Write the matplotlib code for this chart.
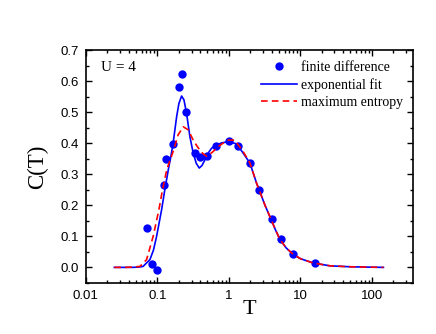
import matplotlib
matplotlib.use("Agg")
import matplotlib.pyplot as plt
from matplotlib.ticker import LogLocator, MultipleLocator, FixedLocator, FixedFormatter, NullFormatter

# finite difference data
fd_T = [16.0, 8.0, 5.333, 4.0, 2.667, 2.0, 1.333, 1.0, 0.667, 0.5, 0.4, 0.333,
        0.25, 0.222, 0.2, 0.1667, 0.1333, 0.125, 0.1, 0.0833, 0.0714]
fd_C = [0.014, 0.043, 0.090, 0.156, 0.249, 0.337, 0.391, 0.407, 0.392, 0.360, 0.354, 0.370,
        0.500, 0.624, 0.580, 0.397, 0.349, 0.264, -0.008, 0.012, 0.128]

# exponential fit curve
exp_T = [0.025, 0.035, 0.045, 0.055, 0.063, 0.0786, 0.088, 0.0975, 0.1146, 0.127, 0.142, 0.155,
         0.166, 0.186, 0.20, 0.218, 0.235, 0.256, 0.285, 0.317, 0.35, 0.385, 0.42, 0.461,
         0.52, 0.573, 0.637, 0.79, 0.98, 1.28, 1.585, 1.97, 2.44, 2.65, 3.2, 3.87, 4.5,
         5.16, 6.3, 7.76, 10.0, 15.2, 25.9, 49.0, 80.0, 145.0]
exp_C = [0.0, 0.0, 0.0, 0.001, 0.003, 0.025, 0.055, 0.10, 0.186, 0.25, 0.314, 0.36,
         0.40, 0.486, 0.528, 0.552, 0.540, 0.496, 0.421, 0.368, 0.335, 0.320, 0.328, 0.346,
         0.370, 0.384, 0.392, 0.401, 0.405, 0.398, 0.368, 0.336, 0.271, 0.25, 0.20, 0.156, 0.120,
         0.091, 0.063, 0.044, 0.028, 0.014, 0.005, 0.002, 0.001, 0.0]

# maximum entropy curve
me_T = [0.025, 0.035, 0.045, 0.057, 0.0706, 0.0873, 0.105, 0.118, 0.135, 0.15, 0.166, 0.195,
        0.23, 0.27, 0.317, 0.36, 0.393, 0.44, 0.49, 0.58, 0.71, 0.85, 0.98, 1.21, 1.585,
        1.97, 2.44, 2.65, 3.2, 3.87, 4.5, 5.16, 6.3, 7.76, 10.0, 15.2, 25.9, 49.0, 80.0, 145.0]
me_C = [0.0, 0.0, 0.001, 0.003, 0.025, 0.10, 0.186, 0.25, 0.314, 0.345, 0.373, 0.427,
        0.453, 0.443, 0.41, 0.39, 0.378, 0.365, 0.358, 0.370, 0.389, 0.402, 0.41, 0.41, 0.373,
        0.336, 0.271, 0.25, 0.20, 0.156, 0.120, 0.091, 0.063, 0.044, 0.028, 0.014, 0.005, 0.002, 0.001, 0.0]

x_ticks = [0.01, 0.1, 1, 10, 100]
x_tick_labels = ["0.01", "0.1", "1", "10", "100"]
y_ticks = [0.0, 0.1, 0.2, 0.3, 0.4, 0.5, 0.6, 0.7]
y_tick_labels = ["0.0", "0.1", "0.2", "0.3", "0.4", "0.5", "0.6", "0.7"]

serif = "Liberation Serif"
sans = "Liberation Sans"

fig = plt.figure(figsize=(4.36, 3.34), dpi=100)
ax = fig.add_axes([0.197, 0.153, 0.751, 0.697])

ax.plot(fd_T, fd_C, "o", color="#0000ff", markersize=6, markeredgewidth=0, label="finite difference", zorder=3)
ax.plot(exp_T, exp_C, "-", color="#0000ff", lw=1.2, label="exponential fit", zorder=4)
ax.plot(me_T, me_C, "--", color="#ff0000", lw=1.2, dashes=(4, 2.5), label="maximum entropy", zorder=5)

ax.set_xscale("log")
ax.set_xlim(0.01, 380)
ax.set_ylim(-0.05, 0.7)

ax.xaxis.set_major_locator(FixedLocator(x_ticks))
ax.xaxis.set_major_formatter(FixedFormatter(x_tick_labels))
ax.xaxis.set_minor_locator(LogLocator(base=10, subs=range(2, 10), numticks=20))
ax.xaxis.set_minor_formatter(NullFormatter())
ax.yaxis.set_major_locator(FixedLocator(y_ticks))
ax.yaxis.set_major_formatter(FixedFormatter(y_tick_labels))
ax.yaxis.set_minor_locator(MultipleLocator(0.05))

ax.tick_params(which="both", direction="in", top=True, right=True, width=1.0)
ax.tick_params(which="major", length=4, labelsize=9.5, pad=5)
ax.tick_params(which="minor", length=2)
for lab in ax.get_xticklabels() + ax.get_yticklabels():
    lab.set_family(sans)
for s in ax.spines.values():
    s.set_linewidth(1.2)

ax.set_xlabel("T", fontsize=16, family=serif, labelpad=-1)
ax.set_ylabel("C(T)", fontsize=16.5, family=serif, labelpad=9)

ax.text(0.045, 0.925, "U = 4", transform=ax.transAxes, fontsize=11, family=serif, va="center")

leg = ax.legend(loc="upper right", frameon=False, prop={"family": serif, "size": 10},
                handlelength=2.6, handletextpad=0.3, labelspacing=0.3,
                borderaxespad=0.3, bbox_to_anchor=(1.0, 0.995))

fig.savefig("out.png", dpi=100)
